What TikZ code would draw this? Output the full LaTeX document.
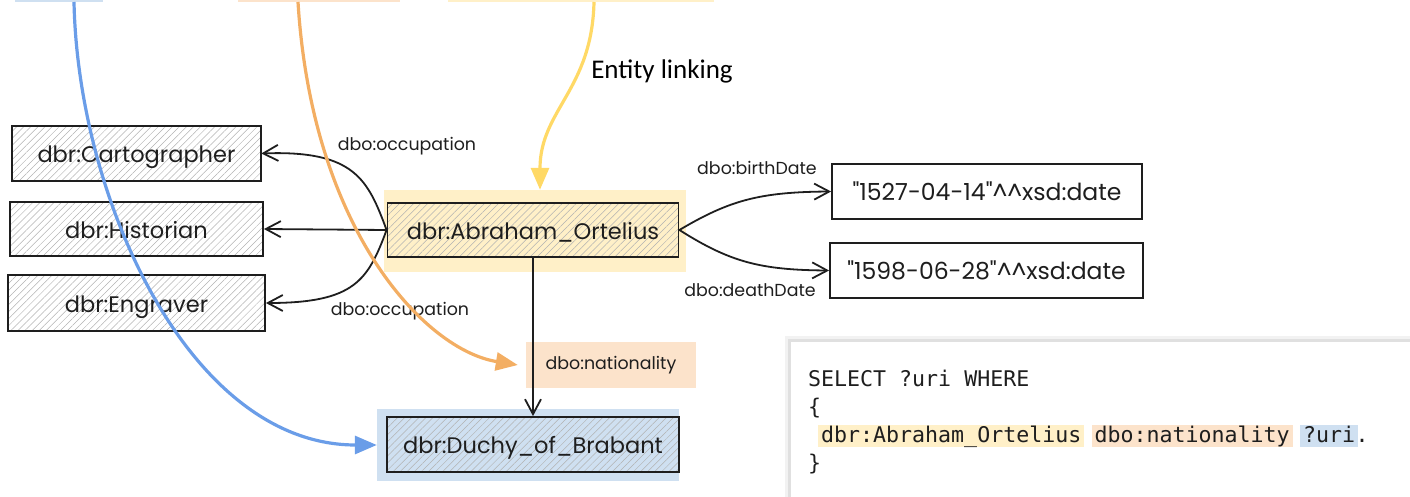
\documentclass[tikz,border=0pt]{standalone}
\usepackage{fontspec}
\setmainfont{Poppins}
\newfontfamily\handfont{Poppins}
\newfontfamily\calibfont{Carlito}
\newfontfamily\codefont{DejaVu Sans Mono}
\usetikzlibrary{arrows.meta,patterns.meta}
\definecolor{ink}{HTML}{1E1E1E}
\definecolor{hlY}{HTML}{FFF0C8}
\definecolor{hlO}{HTML}{FCE3CB}
\definecolor{hlB}{HTML}{CFE0F1}
\definecolor{arB}{HTML}{6A9DE8}
\definecolor{arO}{HTML}{F3AE63}
\definecolor{arY}{HTML}{FFD966}
\newcommand\boxfont{\handfont\fontsize{22.5}{26}\selectfont}
\newcommand\datefont{\handfont\fontsize{23.5}{27}\selectfont}
\newcommand\edgefont{\handfont\fontsize{17.4}{20}\selectfont}
\newcommand\sparqlfont{\codefont\fontsize{21.6}{26}\selectfont}
\begin{document}
\begin{tikzpicture}[x=1pt,y=-1pt,
  box/.style={draw=ink, line width=1.8pt, inner sep=0pt, text=ink, font=\boxfont, text height=18pt, text depth=0pt},
  hatched/.style={pattern={Lines[angle=45,distance=5pt,line width=0.5pt]}, pattern color=black!30},
  hl/.style={inner sep=0pt, draw=none},
  lbl/.style={text=ink, font=\edgefont, inner sep=0pt},
  conn/.style={draw=ink, line width=1.8pt, line cap=round, -{Straight Barb[length=15pt,width=16pt]}},
  cur/.style={line width=3.2pt, -{Triangle[length=22pt,width=18pt]}},
  code/.style={font=\sparqlfont, text=ink, inner xsep=3pt, inner ysep=0pt, text height=17pt, text depth=5pt}
]
\useasboundingbox (0,0) rectangle (1410,497);
% top strips (bottoms of boxes above)
\fill[hlB] (15,0) rectangle (103,2);
\fill[hlO] (238,0) rectangle (400,2);
\fill[hlY] (448,0) rectangle (714,2);
% highlights
\node[hl,fill=hlY,minimum width=302pt,minimum height=82pt] (orthl) at (535,231) {};
\node[hl,fill=hlO,minimum width=170pt,minimum height=46pt,text=ink,font=\edgefont] (nat) at (611,365) {dbo:nationality};
\node[hl,fill=hlB,minimum width=302pt,minimum height=72pt] (duchyhl) at (528,445) {};
% boxes
\node[box,hatched,minimum width=249pt,minimum height=55pt] (cart) at (136.5,153.5) {dbr:Cartographer};
\node[box,hatched,minimum width=253pt,minimum height=54pt] (hist) at (136.5,229) {dbr:Historian};
\node[box,hatched,minimum width=257pt,minimum height=56pt] (engr) at (136.5,303) {dbr:Engraver};
\node[box,hatched,minimum width=291pt,minimum height=54pt] (ort) at (533,230) {dbr:Abraham\_Ortelius};
\node[box,fill=white,font=\datefont,minimum width=310pt,minimum height=55pt] (d1) at (987,191.5) {"1527-04-14"\textasciicircum\textasciicircum xsd:date};
\node[box,fill=white,font=\datefont,minimum width=313pt,minimum height=55pt] (d2) at (986.5,270.5) {"1598-06-28"\textasciicircum\textasciicircum xsd:date};
\node[box,hatched,minimum width=292pt,minimum height=55pt] (duchy) at (533,444.5) {dbr:Duchy\_of\_Brabant};
% connectors
\draw[conn] (ort.west) .. controls (368,180) and (355,150) .. (cart.east);
\draw[conn] (ort.west) -- (hist.east);
\draw[conn] (ort.west) .. controls (368,280) and (355,303) .. (engr.east);
\draw[conn] (ort.east) .. controls (730,200) and (760,192) .. (d1.west);
\draw[conn] (ort.east) .. controls (730,262) and (760,270) .. (d2.west);
\draw[conn] (ort.south) -- (duchy.north);
% edge labels
\node[lbl] (l1) at (407,146) {dbo:occupation};
\node[lbl] (l2) at (400,311) {dbo:occupation};
\node[lbl] (l3) at (757,168) {dbo:birthDate};
\node[lbl] (l4) at (750,290) {dbo:deathDate};
% entity linking
\node[font=\calibfont\fontsize{27}{30}\selectfont, text=black, inner sep=0pt] (el) at (662,71) {Entity linking};
% colored curves
\coordinate (bS) at (74,2);
\coordinate (oS) at (298,2);
\coordinate (yS) at (594,2);
\draw[cur,arB] (bS) .. controls (78,200) and (190,445) .. (duchyhl.west);
\draw[cur,arO] (oS) .. controls (312,230) and (425,350) .. ([xshift=-8pt]nat.west);
\draw[cur,arY] (yS) .. controls (592,90) and (540,110) .. ([xshift=5pt]orthl.north);
% SPARQL panel
\fill[black!5] (785,336) rectangle (1410,497);
\fill[black!12] (788,339) rectangle (1410,497);
\fill[white] (791,342) rectangle (1410,497);
\node[code,anchor=base west] (q1) at (805,386) {SELECT ?uri WHERE};
\node[code,anchor=base west] (q2) at (805,414) {\{};
\node[code,anchor=base west,fill=hlY] (t1) at (818,442) {dbr:Abraham\_Ortelius};
\node[code,anchor=base west,fill=hlO] (t2) at ([xshift=7pt]t1.base east) {dbo:nationality};
\node[code,anchor=base west,fill=hlB] (t3) at ([xshift=7pt]t2.base east) {?uri};
\node[code,anchor=base west,inner xsep=0pt] (t4) at ([xshift=-3pt]t3.base east) {.};
\node[code,anchor=base west] (q4) at (805,470) {\}};
\end{tikzpicture}
\end{document}
